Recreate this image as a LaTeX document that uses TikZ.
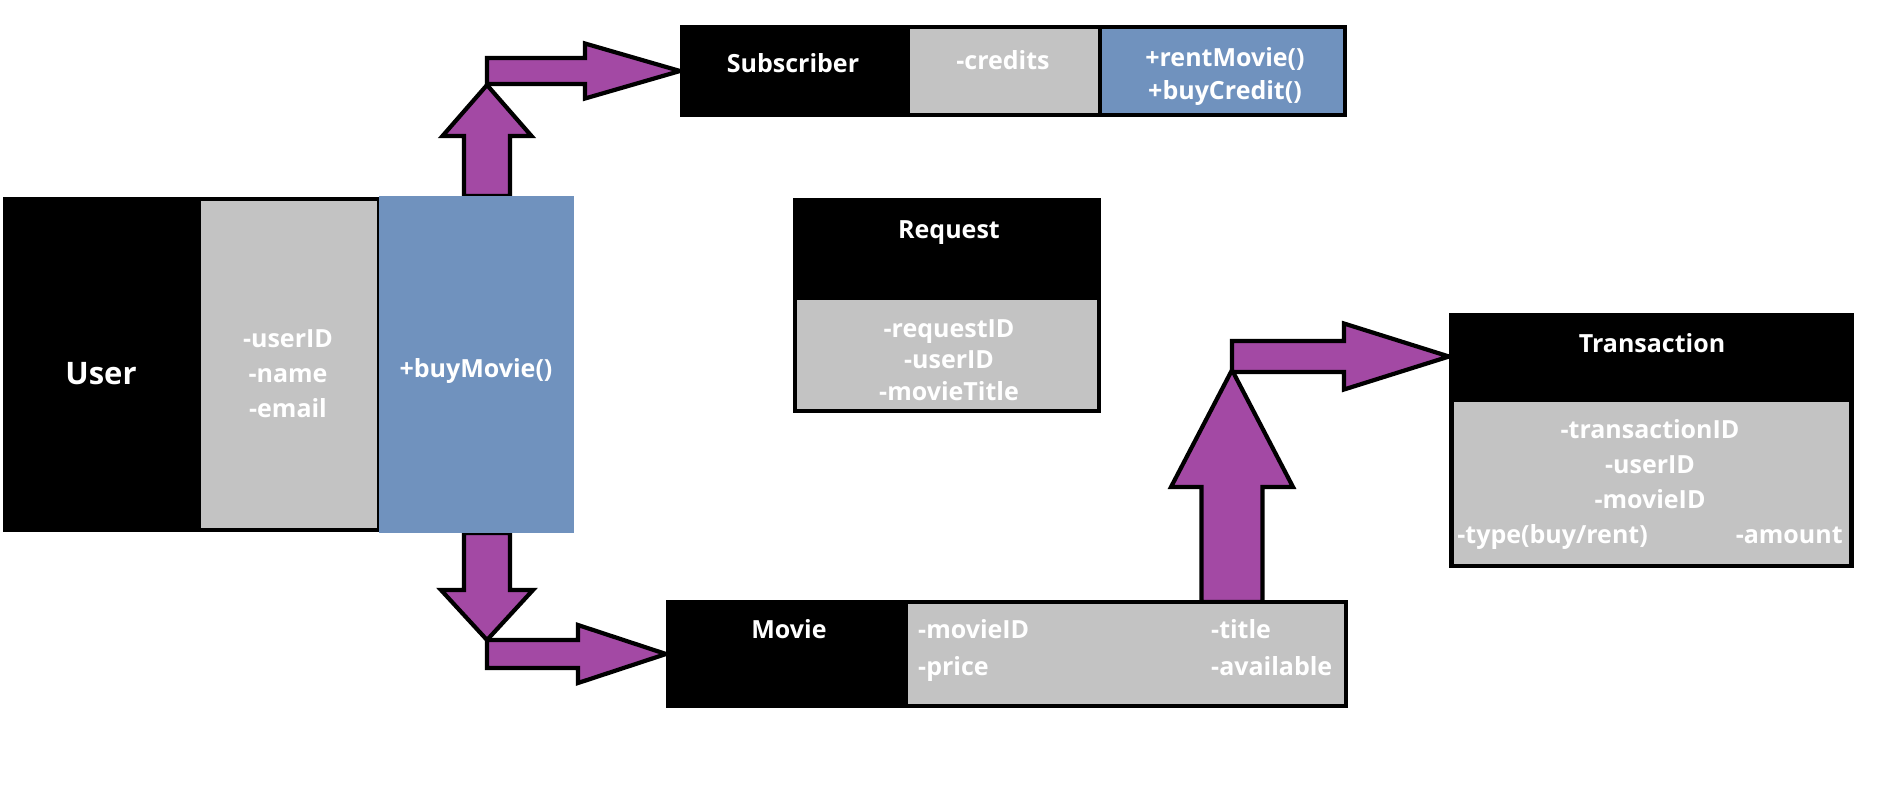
\documentclass[tikz,border=0pt]{standalone}
\usepackage{fontspec}
\setmainfont{Open Sans}
\usetikzlibrary{positioning, calc, backgrounds}
\definecolor{boxgray}{HTML}{C3C3C3}
\definecolor{boxblue}{HTML}{7092BE}
\definecolor{arrowpurple}{HTML}{A349A4}

% fat outlined arrow: from, to, shaft half width, head half width, head length
\newcommand{\blockarrow}[5]{%
  \draw[fatarrow] let \p1=(#1), \p2=(#2),
      \n1={atan2(\y2-\y1,\x2-\x1)}, \n2={veclen(\x2-\x1,\y2-\y1)} in
    [shift={(\p1)}, rotate=\n1]
    (0,#3) -- (\n2-#5,#3) -- (\n2-#5,#4) -- (\n2,0)
    -- (\n2-#5,-#4) -- (\n2-#5,-#3) -- (0,-#3) -- cycle;}

\begin{document}
\begin{tikzpicture}[
        x=1pt, y=-1pt,
        namebox/.style={rectangle, fill=black, inner sep=0pt, outer sep=0pt},
        attrbox/.style={rectangle, draw=black, line width=4.5pt, fill=boxgray, inner sep=0pt, outer sep=0pt},
        opsbox/.style={rectangle, draw=black, line width=4.5pt, fill=boxblue, inner sep=0pt, outer sep=0pt},
        lbl/.style={text=white, font=\bfseries\fontsize{25}{35}\selectfont, inner sep=0pt, align=center, anchor=base},
        fatarrow/.style={draw=black, fill=arrowpurple, line width=4.2pt, line join=miter}
    ]
        \useasboundingbox (0,0) rectangle (1903,793);

        % Nodes
        \node [namebox, minimum width=196pt, minimum height=335pt] (username) at (101,364.5) {};
        \node [attrbox, minimum width=180pt, minimum height=331pt, right=0pt of username] (userattr) {};
        \node [opsbox, draw=none, minimum width=195pt, minimum height=337pt, right=0pt of userattr] (userops) {};

        \node [namebox, minimum width=228pt, minimum height=92pt] (subname) at (794,71) {};
        \node [attrbox, minimum width=192pt, minimum height=88pt, right=0pt of subname] (subattr) {};
        \node [opsbox, minimum width=245pt, minimum height=88pt, right=0pt of subattr] (subops) {};

        \node [namebox, minimum width=308pt, minimum height=100pt] (reqname) at (947,248) {};
        \node [attrbox, minimum width=304pt, minimum height=113pt, below=0pt of reqname] (reqattr) {};

        \node [namebox, minimum width=240pt, minimum height=108pt] (movname) at (786,654) {};
        \node [attrbox, minimum width=440pt, minimum height=104pt, right=0pt of movname] (movattr) {};

        \node [namebox, minimum width=405pt, minimum height=87pt] (traname) at (1651.5,356.5) {};
        \node [attrbox, minimum width=400pt, minimum height=166pt, below=0pt of traname] (traattr) {};

        % Texts (base = last line)
        \node [lbl, font=\bfseries\fontsize{31}{38}\selectfont] (usertitle) at (101,384) {User};
        \node [lbl] (userfields) at (288,417) {-userID\\-name\\-email};
        \node [lbl] (usermethods) at (476,377) {+buyMovie()};

        \node [lbl] (subtitle) at (793,72) {Subscriber};
        \node [lbl] (subfields) at (1003,69) {-credits};
        \node [lbl, font=\bfseries\fontsize{25}{33}\selectfont] (submethods) at (1225,99) {+rentMovie()\\+buyCredit()};

        \node [lbl] (reqtitle) at (949,238) {Request};
        \node [lbl, font=\bfseries\fontsize{25}{31.5}\selectfont] (reqfields) at (949,400) {-requestID\\-userID\\-movieTitle};

        \node [lbl] (movtitle) at (789,638) {Movie};
        \node [lbl, font=\bfseries\fontsize{25}{37}\selectfont, align=left, anchor=base west] (movfieldsa) at (918,675) {-movieID\\-price};
        \node [lbl, font=\bfseries\fontsize{25}{37}\selectfont, align=left, anchor=base west] (movfieldsb) at (1211,675) {-title\\-available};

        \node [lbl] (tratitle) at (1652,352) {Transaction};
        \node [lbl] (trafields) at (1650,543) {-transactionID\\-userID\\-movieID\\-type(buy/rent)\hspace{88pt}-amount};

        % Edges
        \coordinate (subturn) at (487,85);
        \coordinate (movturn) at (487,640);
        \coordinate (traturn) at (1232,370);
        \begin{scope}[on background layer]
            \blockarrow{userops.north -| subturn}{subturn}{23}{44.5}{51}
            \blockarrow{subturn |- subname.west}{subname.west}{13}{27.5}{95}
            \blockarrow{userops.south -| movturn}{movturn}{23}{46}{50}
            \blockarrow{movturn |- movname.west}{movname.west}{14}{29}{88}
            \blockarrow{movattr.north -| traturn}{traturn}{30.5}{61}{117}
            \blockarrow{traturn |- traname.west}{traname.west}{15.5}{33}{105}
        \end{scope}

\end{tikzpicture}
\end{document}
